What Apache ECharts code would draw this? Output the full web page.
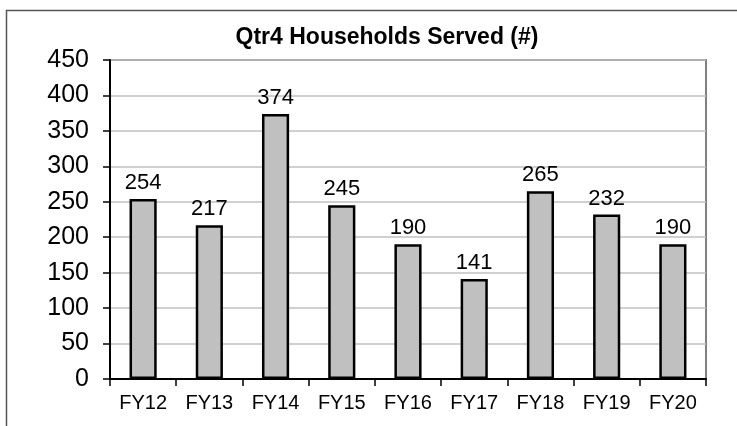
<!DOCTYPE html>
<html>
<head>
<meta charset="utf-8">
<script src="https://cdn.jsdelivr.net/npm/echarts@6/dist/echarts.min.js"></script>
<style>
html,body{margin:0;padding:0;background:#fff;}
#c{width:737px;height:426px;}
</style>
</head>
<body>
<div id="c"></div>
<script>
const titleText = 'Qtr4 Households Served (#)';
const categories = ['FY12','FY13','FY14','FY15','FY16','FY17','FY18','FY19','FY20'];
const households = [254, 217, 374, 245, 190, 141, 265, 232, 190];
const yMin = 0, yMax = 450, yStep = 50;

const chart = echarts.init(document.getElementById('c'), null, {renderer:'canvas'});
const fontFam = '"Liberation Sans", Arial, sans-serif';
chart.setOption({
  animation:false,
  backgroundColor:'#fff',
  graphic:[{
    type:'rect', shape:{x:6.5, y:10.5, width:900, height:600},
    style:{fill:'none', stroke:'#555', lineWidth:1.5}, silent:true, z:-1
  },{
    type:'text', x:387, y:49, silent:true,
    style:{text:titleText, fill:'#000', font:'bold 23px "Liberation Sans", Arial, sans-serif', textAlign:'center', textVerticalAlign:'bottom', verticalAlign:'bottom'}
  }],
  grid:{left:110, top:60, width:596, height:319, show:true, borderColor:'#808080', borderWidth:2, backgroundColor:'transparent'},
  xAxis:{
    type:'category', data:categories, boundaryGap:true,
    axisLine:{lineStyle:{color:'#000', width:2}},
    axisTick:{show:true, length:7, lineStyle:{color:'#000', width:1.5}},
    axisLabel:{fontFamily:fontFam, fontSize:20, color:'#000', margin:14},
    splitLine:{show:false}
  },
  yAxis:{
    type:'value', min:yMin, max:yMax, interval:yStep,
    axisLine:{show:true, lineStyle:{color:'#000', width:2}},
    axisTick:{show:true, length:7, lineStyle:{color:'#000', width:1.5}},
    axisLabel:{fontFamily:fontFam, fontSize:25, color:'#000', margin:21},
    splitLine:{show:true, lineStyle:{color:'#c0c0c0', width:1.5}}
  },
  series:[{
    type:'bar', data:households, barWidth:'41%',
    itemStyle:{color:'#c0c0c0', borderColor:'#000', borderWidth:2.5},
    label:{show:true, position:'top', distance:5, fontFamily:fontFam, fontSize:22, color:'#000'}
  }]
});
</script>
</body>
</html>
